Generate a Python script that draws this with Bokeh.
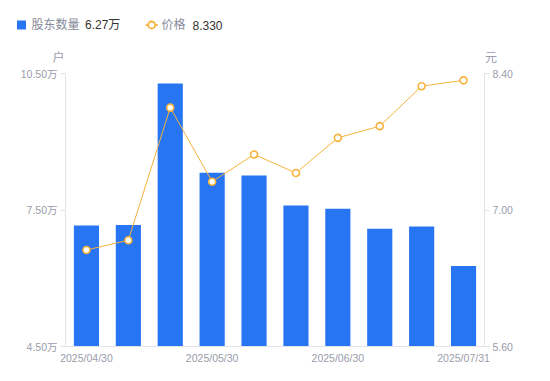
from bokeh.plotting import figure
from bokeh.models import Range1d, LinearAxis, FixedTicker, Label, ColumnDataSource
from bokeh.embed import file_html
from bokeh.resources import INLINE

dates = ["2025/04/30", "2025/05/10", "2025/05/20", "2025/05/30", "2025/06/10",
         "2025/06/20", "2025/06/30", "2025/07/10", "2025/07/20", "2025/07/31"]
holders = [7.16, 7.17, 10.28, 8.32, 8.26, 7.60, 7.53, 7.09, 7.14, 6.27]   # 万户
prices = [6.59, 6.69, 8.05, 7.29, 7.57, 7.38, 7.74, 7.86, 8.27, 8.33]     # 元
left_ticks = [4.5, 7.5, 10.5]
right_ticks = [5.6, 7.0, 8.4]
x_tick_idx = [0, 3, 6, 9]

FONT = "Liberation Sans, Noto Sans CJK SC"
GREY = "#9a9cab"
BLUE = "#2775f2"
ORANGE = "#f7b23b"

W, H = 550, 381
PL, PR, PT, PB = 65, 484, 73, 346     # plot-area edges in canvas px
X0, X1 = -0.5, len(dates) - 0.5
Y0, Y1 = left_ticks[0], left_ticks[-1]
R0, R1 = right_ticks[0], right_ticks[-1]

def px2x(px):
    return X0 + (px - PL) * (X1 - X0) / (PR - PL)

def px2y(py):
    return Y0 + (PB - py) * (Y1 - Y0) / (PB - PT)

def px2r(py):
    return R0 + (PB - py) * (R1 - R0) / (PB - PT)

idx = list(range(len(dates)))
src = ColumnDataSource(dict(x=idx, h=holders, p=prices))

# the frame covers the whole canvas; axes are pinned at the plot-area edges
p = figure(width=W, height=H, output_backend="svg", toolbar_location=None,
           x_range=Range1d(px2x(0), px2x(W)), y_range=Range1d(px2y(H), px2y(0)),
           min_border=0, min_border_left=0, min_border_right=0,
           min_border_top=0, min_border_bottom=0)
p.outline_line_color = None
p.grid.visible = False
p.xaxis.visible = False
p.yaxis.visible = False
p.extra_y_ranges = {"price": Range1d(px2r(H), px2r(0))}

p.vbar(x="x", top="h", bottom=Y0, width=0.6, source=src, fill_color=BLUE, line_color=None)
p.line(x="x", y="p", source=src, y_range_name="price", line_color=ORANGE, line_width=1)
p.scatter(x="x", y="p", source=src, y_range_name="price", size=7, fill_color="white",
          line_color=ORANGE, line_width=1.6)

def style_axis(ax):
    ax.axis_line_color = "#e2e3e8"
    ax.major_tick_line_color = "#e2e3e8"
    ax.minor_tick_line_color = None
    ax.major_label_text_color = GREY
    ax.major_label_text_font = FONT
    ax.major_label_text_font_size = "10.5px"

xa = LinearAxis(ticker=FixedTicker(ticks=x_tick_idx), fixed_location=Y0, bounds=(X0, X1),
                major_label_overrides={i: dates[i] for i in x_tick_idx})
style_axis(xa)
xa.major_tick_line_color = None
xa.major_tick_out = 0
xa.major_tick_in = 0
xa.major_label_standoff = 5
p.add_layout(xa, "below")

la = LinearAxis(ticker=FixedTicker(ticks=left_ticks), fixed_location=X0, bounds=(Y0, Y1),
                major_label_overrides={t: f"{t:.2f}万" for t in left_ticks})
style_axis(la)
la.major_tick_out = 5
la.major_tick_in = 0
la.major_label_standoff = 3
p.add_layout(la, "left")

ra = LinearAxis(y_range_name="price", ticker=FixedTicker(ticks=right_ticks),
                fixed_location=X1, bounds=(R0, R1),
                major_label_overrides={t: f"{t:.2f}" for t in right_ticks})
style_axis(ra)
ra.major_tick_out = 5
ra.major_tick_in = 0
ra.major_label_standoff = 3
p.add_layout(ra, "right")

# ---- legend ----
LY = 24.5
p.scatter(x=[px2x(21)], y=[px2y(LY)], marker="square", size=9, fill_color=BLUE,
          line_color=None)
p.line(x=[px2x(145), px2x(157.5)], y=[px2y(LY), px2y(LY)], line_color=ORANGE, line_width=1.5)
p.scatter(x=[px2x(151.2)], y=[px2y(LY)], size=7, fill_color="white", line_color=ORANGE,
          line_width=1.8)

def lab(txt, px, py, color, size="12px", align="left"):
    p.add_layout(Label(x=px2x(px), y=px2y(py), text=txt, text_font=FONT,
                       text_font_size=size, text_color=color, text_align=align,
                       text_baseline="middle"))

lab("股东数量", 31, LY, "#868999")
lab("6.27万", 84.5, LY, "#333333")
lab("价格", 161, LY, "#868999")
lab("8.330", 192, LY, "#333333")
lab("户", 58, 57.5, GREY, "12px", "center")
lab("元", 484.5, 57, GREY, "12px", "left")

open("out.html", "w").write(file_html(p, INLINE))
